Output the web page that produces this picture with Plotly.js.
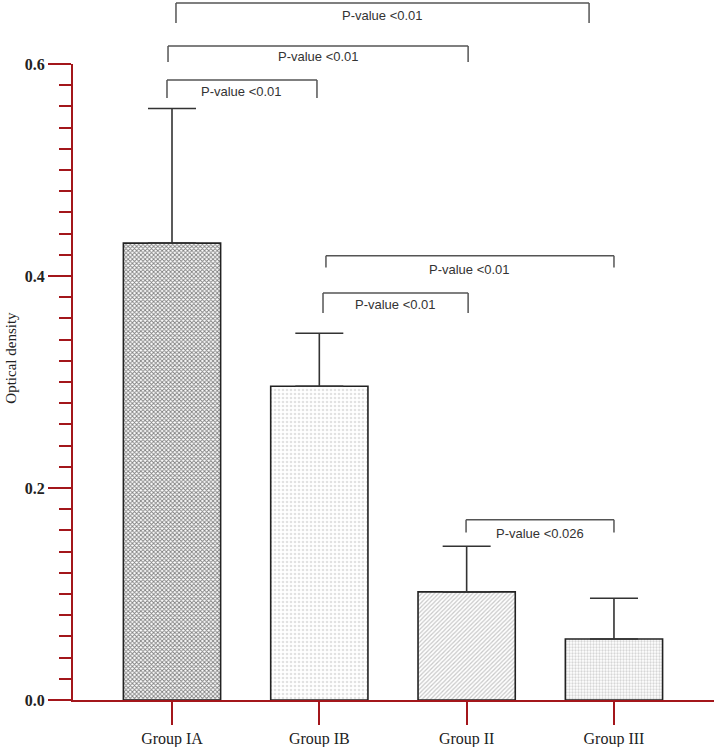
<!DOCTYPE html>
<html>
<head>
<meta charset="utf-8">
<script src="https://cdn.plot.ly/plotly-3.0.1.min.js"></script>
<style>html,body{margin:0;padding:0;background:#fff;}#chart{width:717px;height:747px;}</style>
</head>
<body>
<div id="chart"></div>
<script>
// ---- data ----
const groups = ["Group IA", "Group IB", "Group II", "Group III"];
const meanOD = [0.431, 0.296, 0.102, 0.0575];
const errOD = [0.127, 0.050, 0.043, 0.0385];

// significance brackets (category positions and optical-density levels)
const bracketFrom = [0.027, -0.027, -0.034, 1.045, 1.025, 1.996];
const bracketTo   = [2.831, 2.010, 0.984, 3.0, 2.010, 3.0];
const bracketTop  = [0.6575, 0.617, 0.585, 0.419, 0.384, 0.170];
const bracketEnd  = [0.6387, 0.602, 0.568, 0.408, 0.365, 0.158];
const bracketTextY = [0.646, 0.607, 0.574, 0.406, 0.373, 0.157];
const bracketLabels = ["P-value <0.01", "P-value <0.01", "P-value <0.01", "P-value <0.01", "P-value <0.01", "P-value <0.026"];

const yTicks = [0, 0.2, 0.4, 0.6];
const yMax = 0.6;

const red = "#a3161b";

const trace = {
  type: "bar",
  x: [0, 1, 2, 3],
  y: meanOD,
  width: 0.66,
  marker: {
    color: ["#7e7e7e", "#e2e2e2", "#c8c8c8", "#d6d6d6"],
    line: {color: "#222", width: 1.6},
    pattern: {
      shape: ["x", ".", "/", "."],
      fgcolor: ["#2a2a2a", "#9c9c9c", "#555555", "#949494"],
      bgcolor: ["#8a8a8a", "#e2e2e2", "#d0d0d0", "#d8d8d8"],
      size: [3, 4, 3, 3],
      solidity: [0.5, 0.35, 0.4, 0.45],
      fillmode: "replace"
    }
  },
  error_y: {
    type: "data",
    symmetric: false,
    array: errOD,
    arrayminus: errOD.map(() => 0),
    color: "#333",
    thickness: 1.6,
    width: 24
  },
  hoverinfo: "skip"
};

const shapes = [];
const annotations = [];
for (let i = 0; i < bracketLabels.length; i++) {
  const a = bracketFrom[i], b = bracketTo[i];
  const t = bracketTop[i] / yMax, e = bracketEnd[i] / yMax;
  const style = {color: "#555", width: 1.5};
  shapes.push({type: "line", xref: "x", yref: "paper", x0: a, x1: b, y0: t, y1: t, line: style});
  shapes.push({type: "line", xref: "x", yref: "paper", x0: a, x1: a, y0: t, y1: e, line: style});
  shapes.push({type: "line", xref: "x", yref: "paper", x0: b, x1: b, y0: t, y1: e, line: style});
  annotations.push({
    xref: "x", yref: "paper", x: (a + b) / 2, y: bracketTextY[i] / yMax,
    text: bracketLabels[i], showarrow: false, xanchor: "center", yanchor: "middle",
    font: {family: "Liberation Sans, Arial, sans-serif", size: 13, color: "#333"}
  });
}
annotations.push({
  xref: "paper", yref: "paper", x: -0.097, y: 0.538,
  text: "Optical density", textangle: -90, showarrow: false,
  xanchor: "center", yanchor: "middle",
  font: {family: "Liberation Serif, Times New Roman, serif", size: 15, color: "#222"}
});

const layout = {
  width: 717, height: 747,
  margin: {l: 73, r: 3, t: 64, b: 47, pad: 0},
  paper_bgcolor: "#fff", plot_bgcolor: "#fff",
  showlegend: false,
  bargap: 0.34,
  xaxis: {
    range: [-0.672, 3.679],
    tickmode: "array", tickvals: [0, 1, 2, 3], ticktext: groups,
    ticks: "outside", ticklen: 23, tickwidth: 2, tickcolor: red,
    showline: true, linecolor: red, linewidth: 2,
    showgrid: false, zeroline: false,
    tickfont: {family: "Liberation Serif, Times New Roman, serif", size: 16, color: "#222"}
  },
  yaxis: {
    range: [0, yMax],
    tickmode: "array", tickvals: yTicks, tickformat: ".1f",
    ticks: "outside", ticklen: 23, tickwidth: 2, tickcolor: red,
    minor: {dtick: 0.02, tick0: 0, ticks: "outside", ticklen: 12, tickwidth: 2, tickcolor: red, showgrid: false},
    showline: true, linecolor: red, linewidth: 2,
    showgrid: false, zeroline: false,
    tickfont: {family: "Liberation Serif, Times New Roman, serif", size: 16, color: "#222", weight: "bold"}
  },
  shapes: shapes,
  annotations: annotations
};

Plotly.newPlot("chart", [trace], layout, {displayModeBar: false, staticPlot: true});
</script>
</body>
</html>
